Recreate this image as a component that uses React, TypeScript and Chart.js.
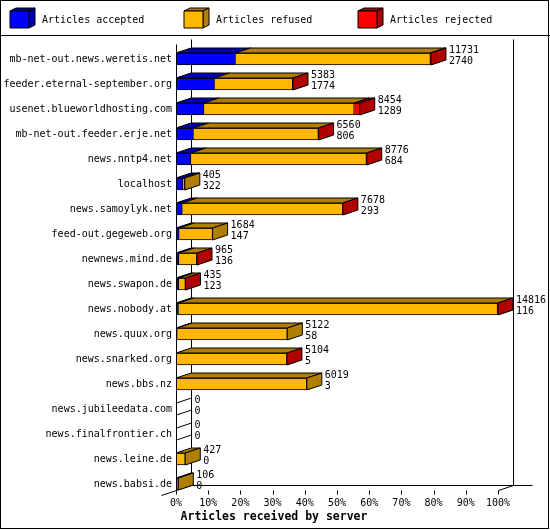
import { useEffect, useRef } from "react"
import { Chart, registerables } from "chart.js"

Chart.register(...registerables)

// Servers, top to bottom
const servers = [
  "mb-net-out.news.weretis.net",
  "feeder.eternal-september.org",
  "usenet.blueworldhosting.com",
  "mb-net-out.feeder.erje.net",
  "news.nntp4.net",
  "localhost",
  "news.samoylyk.net",
  "feed-out.gegeweb.org",
  "newnews.mind.de",
  "news.swapon.de",
  "news.nobody.at",
  "news.quux.org",
  "news.snarked.org",
  "news.bbs.nz",
  "news.jubileedata.com",
  "news.finalfrontier.ch",
  "news.leine.de",
  "news.babsi.de",
]

// Articles offered (upper number) and accepted (lower number)
const offered = [11731, 5383, 8454, 6560, 8776, 405, 7678, 1684, 965, 435, 14816, 5122, 5104, 6019, 0, 0, 427, 106]
const accepted = [2740, 1774, 1289, 806, 684, 322, 293, 147, 136, 123, 116, 58, 5, 3, 0, 0, 0, 0]
// Rejected is not printed, estimated from the red segments
const rejected = [24, 11, 255, 9, 14, 0, 7, 0, 4, 3, 21, 0, 2, 0, 0, 0, 0, 0]

const seriesLabels = ["Articles accepted", "Articles refused", "Articles rejected"]
const frontColors = ["#0000ff", "#ffb700", "#ff0000"]
const shadeColors = ["#0000b0", "#b07e00", "#b00000"]

const FONT = "'DejaVu Sans Mono', monospace"
const DX = 15
const DY = 5

const maxOffered = Math.max(...offered)
const pct = (v: number) => (v / maxOffered) * 100
const refused = offered.map((t, i) => t - accepted[i] - rejected[i])
const series = [accepted, refused, rejected]

const px = (v: number) => Math.round(v) + 0.5

function line(ctx: CanvasRenderingContext2D, x1: number, y1: number, x2: number, y2: number) {
  ctx.beginPath()
  ctx.moveTo(x1, y1)
  ctx.lineTo(x2, y2)
  ctx.stroke()
}

function poly(ctx: CanvasRenderingContext2D, pts: number[][], fill: string | null) {
  ctx.beginPath()
  ctx.moveTo(pts[0][0], pts[0][1])
  for (let k = 1; k < pts.length; k++) ctx.lineTo(pts[k][0], pts[k][1])
  ctx.closePath()
  if (fill) {
    ctx.fillStyle = fill
    ctx.fill()
  }
  ctx.stroke()
}

const bars3d = {
  id: "bars3d",
  beforeDraw(chart: Chart) {
    const ctx = chart.ctx
    ctx.save()
    ctx.fillStyle = "#fff"
    ctx.fillRect(0, 0, chart.width, chart.height)
    ctx.restore()
  },
  beforeDatasetsDraw(chart: Chart) {
    const ctx = chart.ctx
    const xs = chart.scales.x
    const ys = chart.scales.y
    const x0 = px(xs.getPixelForValue(0))
    const x100 = px(xs.getPixelForValue(100))
    const yTop = px(ys.getPixelForValue(0) - 15)
    const yFloor = px(ys.getPixelForValue(servers.length - 1) + 6)
    ctx.save()
    ctx.strokeStyle = "#000"
    ctx.lineWidth = 1
    // back walls and floor
    line(ctx, x0 - DX, yFloor + DY, x0 + DX, yFloor - DY)
    line(ctx, x0 + DX, yTop - DY, x0 + DX, yFloor - DY)
    line(ctx, x0 + DX, yFloor - DY, x100 + DX + 19, yFloor - DY)
    line(ctx, x100 + DX, yTop - DY, x100 + DX, yFloor - DY)
    line(ctx, x100, yFloor, x100 + DX, yFloor - DY)
    for (let v = 0; v <= 100; v += 10) {
      const x = px(xs.getPixelForValue(v))
      line(ctx, x, yFloor, x, yFloor + 4)
    }
    ctx.restore()
  },
  afterDatasetsDraw(chart: Chart) {
    const ctx = chart.ctx
    const xs = chart.scales.x
    const ys = chart.scales.y
    const x0 = px(xs.getPixelForValue(0))
    ctx.save()
    ctx.strokeStyle = "#000"
    ctx.lineWidth = 1
    ctx.lineJoin = "miter"
    servers.forEach((_, i) => {
      let last = -1
      let top = 0
      let bottom = 0
      let end = x0
      for (let d = 0; d < 3; d++) {
        const bar: any = chart.getDatasetMeta(d).data[i]
        const { x, y, base, height } = bar.getProps(["x", "y", "base", "height"], true)
        top = y - height / 2
        bottom = y + height / 2
        if (series[d][i] > 0) {
          if (x - base > 0.5) {
            poly(ctx, [[base, top], [x, top], [x + DX, top - DY], [base + DX, top - DY]], shadeColors[d])
          }
          last = d
          end = x
        }
      }
      if (last >= 0) {
        poly(ctx, [[end, top], [end + DX, top - DY], [end + DX, bottom - DY], [end, bottom]], shadeColors[last])
      } else {
        poly(ctx, [[x0, top], [x0 + DX, top - DY], [x0 + DX, bottom - DY], [x0, bottom]], null)
      }
      const cy = ys.getPixelForValue(i)
      ctx.fillStyle = "#000"
      ctx.font = `10px ${FONT}`
      ctx.textAlign = "left"
      ctx.textBaseline = "middle"
      ctx.fillText(String(offered[i]), end + DX + 3, cy - 9)
      ctx.fillText(String(accepted[i]), end + DX + 3, cy + 2)
    })
    // front left axis
    const yTop = px(ys.getPixelForValue(0) - 15)
    const yFloor = px(ys.getPixelForValue(servers.length - 1) + 6)
    line(ctx, x0, yTop, x0, yFloor)
    ctx.restore()
  },
  afterDraw(chart: Chart) {
    const ctx = chart.ctx
    ctx.save()
    ctx.strokeStyle = "#000"
    ctx.lineWidth = 1
    // legend
    seriesLabels.forEach((label, d) => {
      const bx = 10 + d * 174
      const by = 11
      const w = 19
      const h = 17
      poly(ctx, [[bx, by], [bx + w, by], [bx + w + 6, by - 3], [bx + 6, by - 3]], shadeColors[d])
      poly(ctx, [[bx + w, by], [bx + w + 6, by - 3], [bx + w + 6, by + h - 3], [bx + w, by + h]], shadeColors[d])
      poly(ctx, [[bx, by], [bx + w, by], [bx + w, by + h], [bx, by + h]], frontColors[d])
      ctx.fillStyle = "#000"
      ctx.font = `10px ${FONT}`
      ctx.textAlign = "left"
      ctx.textBaseline = "middle"
      ctx.fillText(label, bx + 32, 20)
    })
    line(ctx, 0, 35.5, chart.width, 35.5)
    ctx.strokeRect(0.5, 0.5, 548, 528)
    // axis title
    ctx.fillStyle = "#000"
    ctx.font = `bold 11.5px ${FONT}`
    ctx.textAlign = "center"
    ctx.textBaseline = "middle"
    ctx.fillText("Articles received by server", 274, 517)
    ctx.restore()
  },
}

export default function App() {
  const chartRef = useRef<HTMLCanvasElement>(null)
  const chartInstance = useRef<Chart | null>(null)

  useEffect(() => {
    document.body.style.margin = "0"
    if (!chartRef.current) return
    if (chartInstance.current) chartInstance.current.destroy()

    const data = {
      labels: servers,
      datasets: series.map((values, d) => ({
        label: seriesLabels[d],
        data: values.map(pct),
        backgroundColor: frontColors[d],
        borderColor: "#000",
        borderWidth: 1,
        borderSkipped: "start" as const,
        barThickness: 12,
      })),
    }

    const ctx = chartRef.current.getContext("2d")
    if (ctx) {
      chartInstance.current = new Chart(ctx, {
        type: "bar",
        data,
        plugins: [bars3d as any],
        options: {
          indexAxis: "y",
          responsive: false,
          animation: false,
          events: [],
          layout: { padding: { top: 46.5, right: 52, bottom: 0, left: 0 } },
          plugins: {
            legend: { display: false },
            tooltip: { enabled: false },
          },
          scales: {
            x: {
              stacked: true,
              min: 0,
              max: 100,
              grid: { display: false, drawTicks: false },
              border: { display: false },
              ticks: {
                stepSize: 10,
                color: "#000",
                padding: 1,
                font: { family: FONT, size: 10 },
                callback: (value) => value + "%",
              },
              afterFit: (scale) => {
                scale.height = 33.5
              },
            },
            y: {
              stacked: true,
              grid: { display: false, drawTicks: false },
              border: { display: false },
              ticks: {
                autoSkip: false,
                color: "#000",
                padding: 4,
                font: { family: FONT, size: 10 },
              },
              afterFit: (scale) => {
                scale.width = 176
              },
            },
          },
        },
      })
    }

    return () => {
      if (chartInstance.current) {
        chartInstance.current.destroy()
        chartInstance.current = null
      }
    }
  }, [])

  return (
    <div style={{ width: 550, height: 530 }}>
      <canvas ref={chartRef} width={550} height={530} style={{ display: "block" }} />
    </div>
  )
}
